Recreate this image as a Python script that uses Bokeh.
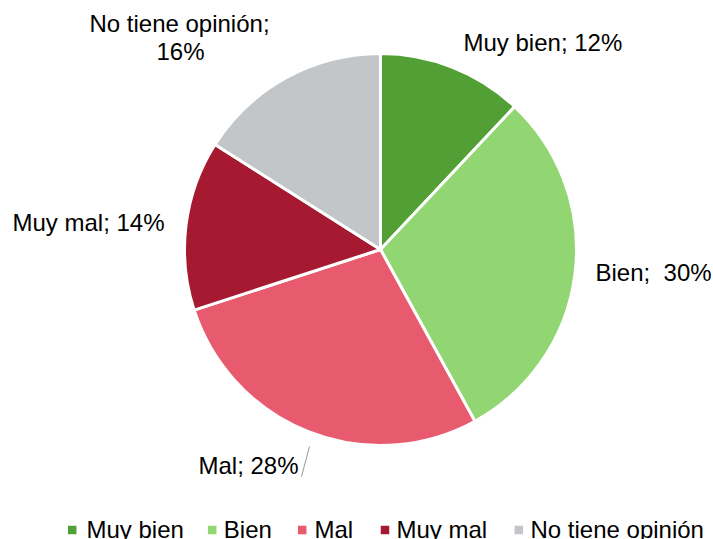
import math
from bokeh.plotting import figure
from bokeh.models import Range1d, ColumnDataSource
from bokeh.core.properties import value
from bokeh.embed import file_html
from bokeh.resources import INLINE

categories = ["Muy bien", "Bien", "Mal", "Muy mal", "No tiene opinión"]
percents = [12, 30, 28, 14, 16]
colors = ["#52a035", "#91d672", "#e85a6e", "#a51a30", "#c3c6c8"]

W, H = 713, 539
FONT = value("Liberation Sans")

p = figure(width=W, height=H, output_backend="svg", toolbar_location=None,
           x_range=Range1d(0, W), y_range=Range1d(0, H), min_border=0)
p.axis.visible = False
p.grid.visible = False
p.outline_line_color = None
p.background_fill_color = "white"

cx, cy, r = 380, H - 249, 196
total = sum(percents)
starts, ends = [], []
acc = 0.0
for v in percents:
    a0 = math.pi / 2 - 2 * math.pi * acc / total
    acc += v
    a1 = math.pi / 2 - 2 * math.pi * acc / total
    starts.append(a0)
    ends.append(a1)

src = ColumnDataSource(dict(x=[cx] * 5, y=[cy] * 5, start=starts, end=ends,
                            color=colors, cat=categories))
p.wedge(x="x", y="y", radius=r, start_angle="start", end_angle="end",
        direction="clock", fill_color="color", line_color="white", line_width=3,
        source=src)

# data labels (positions are layout)
lab_pos = [(463, 42, "left"), (595, 272, "left"), (298, 465, "right"),
           (12, 222, "left")]
for i, (x, y, al) in enumerate(lab_pos):
    sep = ";\u00a0 " if categories[i] == "Bien" else "; "
    p.text(x=[x], y=[H - y], text=[f"{categories[i]}{sep}{percents[i]}%"],
           text_font=FONT, text_font_size="24px", text_align=al,
           text_baseline="middle", text_color="#000000")
p.text(x=[179], y=[H - 23], text=[f"{categories[4]};"], text_font=FONT,
       text_font_size="24px", text_align="center", text_baseline="middle")
p.text(x=[180], y=[H - 51], text=[f"{percents[4]}%"], text_font=FONT,
       text_font_size="24px", text_align="center", text_baseline="middle")

# leader line for Mal
p.line(x=[301, 309], y=[H - 476, H - 446], line_color="#999999", line_width=1)

# legend
leg_sq = [71.7, 211.7, 301.7, 384.5, 518.3]
leg_tx = [86, 223.3, 314, 396, 530]
for i in range(len(categories)):
    p.rect(x=[leg_sq[i]], y=[H - 529.5], width=8.5, height=8.5,
           fill_color=colors[i], line_color=None)
    p.text(x=[leg_tx[i]], y=[H - 528.5], text=[categories[i]], text_font=FONT,
           text_font_size="24px", text_align="left", text_baseline="middle",
           text_color="#000000")

open("out.html", "w").write(file_html(p, INLINE))
